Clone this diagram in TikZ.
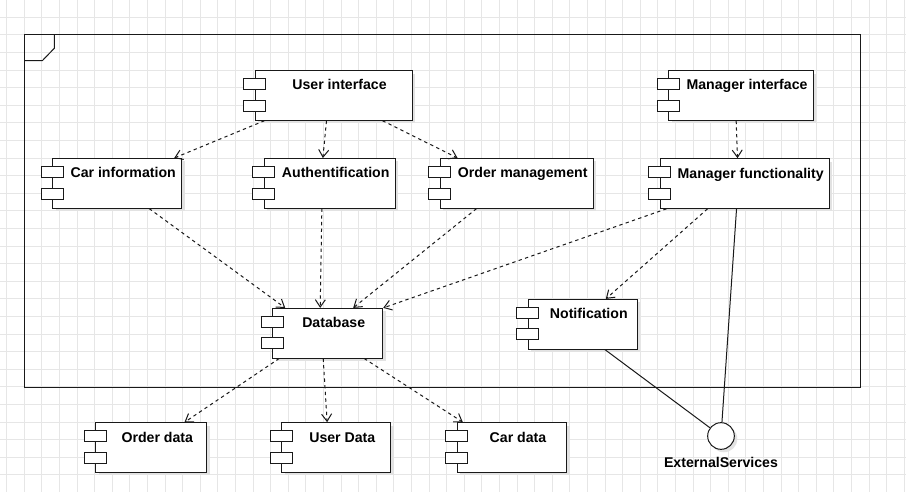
\documentclass[tikz,border=0pt]{standalone}
\usepackage{fontspec}
\setmainfont{Liberation Sans}
\usetikzlibrary{calc,arrows.meta,shadows}
\definecolor{gridln}{RGB}{230,230,230}
\definecolor{shadowgr}{RGB}{226,226,226}
\definecolor{edgeblk}{RGB}{25,25,25}

\tikzset{
  comp/.style={draw=edgeblk,fill=white,line width=0.75pt,inner sep=0pt,
    minimum width=#1,minimum height=37.2pt,text height=14.5pt,text depth=22.7pt,
    font=\fontsize{10.6}{12}\selectfont\bfseries,
    execute at begin node={\hspace*{9pt}},
    drop shadow={shadow xshift=2.2pt,shadow yshift=-2.2pt,fill=shadowgr,opacity=1}},
  port/.style={draw=edgeblk,fill=white,line width=0.75pt},
  iface/.style={circle,draw=edgeblk,fill=white,line width=0.75pt,minimum size=20pt,inner sep=0pt,
    drop shadow={shadow xshift=2.2pt,shadow yshift=-2.2pt,fill=shadowgr,opacity=1}},
  lbl/.style={font=\fontsize{10.6}{12}\selectfont\bfseries,inner sep=0pt},
  dep/.style={draw=edgeblk,line width=0.75pt,dash pattern=on 2.5pt off 2.5pt,
    -{Straight Barb[length=5.5pt,width=7.5pt]}},
  wire/.style={draw=edgeblk,line width=0.75pt}
}

\begin{document}
\begin{tikzpicture}[x=0.75pt,y=-0.75pt]

    \useasboundingbox (0,0) rectangle (906,492);

    % 白底

    \fill[white] (0,0) rectangle (906,492);

    % 网格

    \foreach \i in {0,...,51}{
      \draw[gridln,line width=0.75pt] ({6.7+17.6*\i},0) -- ++(0,492);
    }
    \foreach \j in {1,...,28}{
      \draw[gridln,line width=0.75pt] (0,{-0.3+17.6*\j}) -- ++(906,0);
    }

    % 外框

    \draw[edgeblk,line width=0.75pt] (24,35) rectangle (860,387);
    \draw[edgeblk,line width=0.75pt] (24,60.7) -- (42.3,60.7) -- (54.3,48.3) -- (54.3,35);

    % 组件

    \node[comp=117.75pt] (ui) at (333.5,95.4) {User interface};
    \node[comp=108.5pt] (mgrui) at (741,95.4) {Manager interface};
    \node[comp=96.75pt] (carinfo) at (117.2,183.3) {Car information};
    \node[comp=98pt] (auth) at (329.7,183.3) {Authentification};
    \node[comp=115pt] (ordmgmt) at (516.7,183.3) {Order management};
    \node[comp=127pt] (mgrfunc) at (744.7,183.5) {Manager functionality};
    \node[comp=82.5pt] (db) at (327.7,333.2) {Database};
    \node[comp=81.75pt] (notif) at (582.8,324.2) {Notification};
    \node[comp=83pt] (orddata) at (151.3,447.6) {Order data};
    \node[comp=82pt] (userdata) at (336.3,447.5) {User Data};
    \node[comp=82pt] (cardata) at (512,447.5) {Car data};

    % 组件左侧小方块

    \foreach \n in {ui,mgrui,carinfo,auth,ordmgmt,mgrfunc,db,notif,orddata,userdata,cardata}{
      \draw[port] ($(\n.north west)+(-11,8.5)$) rectangle ++(22,11);
      \draw[port] ($(\n.north west)+(-11,30)$) rectangle ++(22,11);
    }

    % 外部接口

    \node[iface] (ext) at (721,436) {};
    \node[lbl] (extlbl) at (721,462.7) {ExternalServices};

    % 依赖

    \draw[dep] ($(ui.south west)+(10,0)$) -- ($(carinfo.north west)+(122,0)$);
    \draw[dep] ($(ui.south west)+(72,0)$) -- ($(auth.north west)+(59,0)$);
    \draw[dep] ($(ui.south west)+(128,0)$) -- ($(ordmgmt.north west)+(18,0)$);
    \draw[dep] ($(mgrui.south west)+(68,0)$) -- ($(mgrfunc.north west)+(78,0)$);
    \draw[dep] ($(carinfo.south west)+(97,0)$) -- ($(db.north west)+(13,0)$);
    \draw[dep] ($(auth.south west)+(58,0)$) -- ($(db.north west)+(48,0)$);
    \draw[dep] ($(ordmgmt.south west)+(37,0)$) -- ($(db.north west)+(81,0)$);
    \draw[dep] ($(mgrfunc.south west)+(7,0)$) -- (db.north east);
    \draw[dep] ($(mgrfunc.south west)+(48,0)$) -- ($(notif.north west)+(78,0)$);
    \draw[dep] ($(db.south west)+(7,0)$) -- ($(orddata.north west)+(89,0)$);
    \draw[dep] ($(db.south west)+(51,0)$) -- ($(userdata.north west)+(46,0)$);
    \draw[dep] ($(db.south west)+(92,0)$) -- ($(cardata.north west)+(6,0)$);

    % 接口连线

    \draw[wire] ($(mgrfunc.south west)+(77,0)$) -- (ext);
    \draw[wire] ($(notif.south west)+(77,0)$) -- (ext);

  \end{tikzpicture}
\end{document}
